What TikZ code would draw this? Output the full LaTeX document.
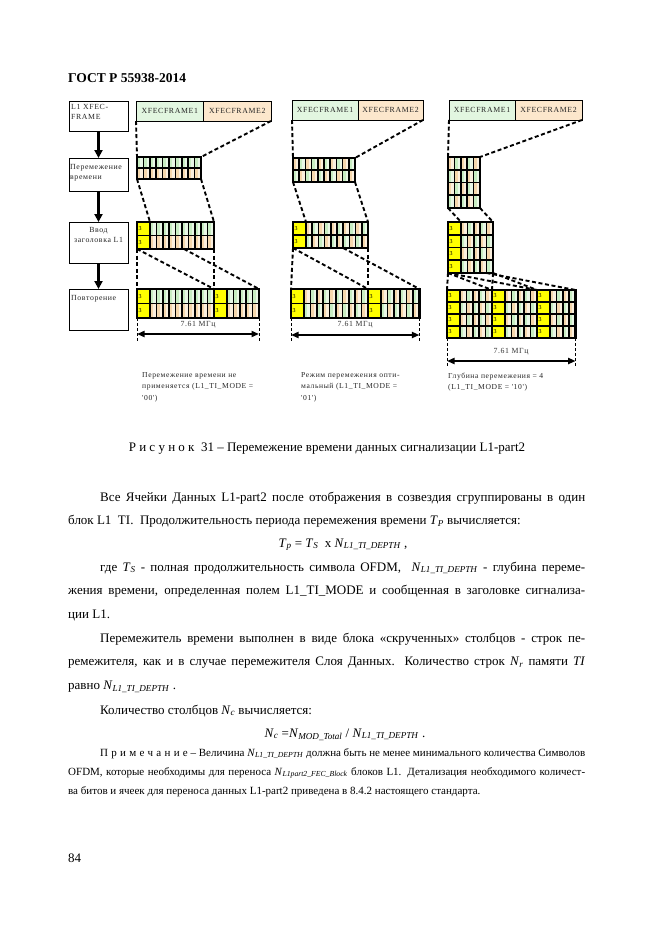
\documentclass[tikz,border=0pt]{standalone}
\usepackage{fontspec}
\setmainfont{Liberation Serif}
\newfontfamily\diagfont[LetterSpace=8]{Liberation Serif}
\newfontfamily\sparsefont[LetterSpace=30]{Liberation Serif}
\usetikzlibrary{arrows.meta}
\definecolor{framegreen}{HTML}{E2F6E0}
\definecolor{framepeach}{HTML}{FCE7CC}
\definecolor{cellgreen}{HTML}{C8EDC2}
\definecolor{cellpeach}{HTML}{F5D7AC}
\definecolor{hdryellow}{HTML}{FFFF00}
\newcommand{\bodyfont}{\fontsize{13}{23.7}\selectfont}
\newcommand{\notefont}{\fontsize{11}{19}\selectfont}
\newcommand{\Nt}[1]{\textit{N}\textsubscript{\textit{#1}}}
% data cells of a TI block: x, y, columns, rows, cell width, cell height, mode
\newcommand{\datacells}[7]{%
  \foreach \ci in {1,...,#3} {
    \foreach \ri in {1,...,#4} {
      \pgfmathsetmacro{\xa}{#1+(\ci-1)*#5}
      \pgfmathsetmacro{\ya}{#2+(\ri-1)*#6}
      \ifnum#7=0 \pgfmathtruncatemacro{\pick}{\ri-1}%
      \else\pgfmathtruncatemacro{\pick}{mod(\ci+\ri+#7,2)}\fi
      \ifnum\pick=0 \def\cellcol{cellgreen}\else\def\cellcol{cellpeach}\fi
      \fill[\cellcol] (\xa,\ya) rectangle ++(#5,#6);
      \fill[white, opacity=0.6] (\xa+0.5*#5,\ya) rectangle ++(0.5*#5,#6);
      \draw[cellline] (\xa,\ya) rectangle ++(#5,#6);
    }
  }
}
% header (yellow) column: x, y, rows, width, cell height, name
\newcommand{\hdrcells}[6]{%
  \foreach \ri in {1,...,#3} {
    \pgfmathsetmacro{\ya}{#2+(\ri-1)*#5}
    \fill[hdryellow] (#1,\ya) rectangle ++(#4,#5);
    \draw[cellline] (#1,\ya) rectangle ++(#4,#5);
    \node[hdrnum, anchor=west] (#6-\ri) at (#1+1.5,\ya+0.5*#5) {3};
  }
}
\begin{document}
\begin{tikzpicture}[x=1pt,y=-1pt,
    flowbox/.style={draw, line width=0.8pt, minimum width=59pt, inner sep=0pt,
      outer sep=0pt, anchor=north west},
    flowtext/.style={font=\diagfont\fontsize{7.8}{10}\selectfont, inner sep=0pt,
      text width=57pt, align=left, text=black!85},
    flowarrow/.style={line width=2.3pt, -{Triangle[length=8pt,width=8pt]}},
    framebar/.style={draw, line width=0.8pt, minimum width=67pt, minimum height=20pt,
      inner sep=0pt, outer sep=0pt, anchor=north west,
      font=\diagfont\fontsize{7.8}{9}\selectfont, text=black!85},
    blockframe/.style={draw, line width=2.4pt, inner sep=0pt, outer sep=0pt,
      anchor=north west},
    cellline/.style={line width=1.6pt},
    hdrnum/.style={font=\diagfont\fontsize{6}{6}\selectfont, inner sep=0pt},
    linkdash/.style={line width=1.9pt, dash pattern=on 4pt off 2.6pt},
    dimdash/.style={line width=0.9pt, dash pattern=on 3pt off 2pt},
    dimarrow/.style={line width=2pt,
      {Triangle[length=7.5pt,width=6pt]}-{Triangle[length=7.5pt,width=6pt]}},
    dimtext/.style={font=\diagfont\fontsize{7.8}{9}\selectfont, text=black!80},
    capnote/.style={font=\diagfont\fontsize{7.6}{11.5}\selectfont, text width=135pt,
      align=left, inner sep=0pt, anchor=base west, text=black!85},
    bodypar/.style={font=\bodyfont, text width=517pt, align=justify, inner sep=0pt,
      anchor=base west},
  ]
  \useasboundingbox (0,0) rectangle (661,935);
  \fill[white] (0,0) rectangle (661,935);

  \node[anchor=base west, inner sep=0pt, font=\bfseries\fontsize{13.5}{16}\selectfont]
    (gost) at (68,82) {ГОСТ Р 55938-2014};

  % Processing steps on the left.
  \node[flowbox, minimum height=30pt] (fxfec) at (69,101) {};
  \node[flowbox, minimum height=33pt] (fti) at (69,158) {};
  \node[flowbox, minimum height=41pt] (fhdr) at (69,222) {};
  \node[flowbox, minimum height=41pt] (frep) at (69,289) {};
  \node[flowtext, anchor=north west] (fxfect) at (71,104) {L1 XFEC-\\FRAME};
  \node[flowtext, anchor=north west] (ftit) at (70,164) {Перемежение\\времени};
  \node[flowtext, anchor=north, align=center] (fhdrt) at (98.5,227) {Ввод\\заголовка L1};
  \node[flowtext, anchor=north west] (frept) at (71,295) {Повторение};
  \draw[flowarrow] (fxfec) -- (fti);
  \draw[flowarrow] (fti) -- (fhdr);
  \draw[flowarrow] (fhdr) -- (frep);

  % Column 1: no time interleaving.
  \node[framebar, fill=framegreen, minimum width=67.5pt] (c1fa) at (136,101) {XFECFRAME1};
  \node[framebar, fill=framepeach, minimum width=67.5pt] (c1fb) at (c1fa.north east) {XFECFRAME2};
  \datacells{137}{157}{10}{2}{6.4}{11}{0}
  \node[blockframe, minimum width=64pt, minimum height=22pt] (c1s2) at (137,157) {};
  \hdrcells{137}{222}{2}{13}{13.5}{c1s3h}
  \datacells{150}{222}{10}{2}{6.4}{13.5}{0}
  \node[blockframe, minimum width=77pt, minimum height=27pt] (c1s3) at (137,222) {};
  \hdrcells{137}{289}{2}{13}{14.5}{c1s4ha}
  \datacells{150}{289}{10}{2}{6.4}{14.5}{0}
  \hdrcells{214}{289}{2}{13}{14.5}{c1s4hb}
  \datacells{227}{289}{5}{2}{6.4}{14.5}{0}
  \node[blockframe, minimum width=122pt, minimum height=29pt] (c1s4) at (137,289) {};
  \coordinate (c1s3d) at (150,222);
  \coordinate (c1s3p) at (184,249);
  \coordinate (c1s4y) at (214,289);
  \draw[linkdash] (c1fa.south west) -- (c1s2.north west);
  \draw[linkdash] (c1fb.south east) -- (c1s2.north east);
  \draw[linkdash] (c1s2.south west) -- (c1s3d);
  \draw[linkdash] (c1s2.south east) -- (c1s3.north east);
  \draw[linkdash] (c1s3.south west) -- (c1s4.north west);
  \draw[linkdash] (c1s3.south west) -- (c1s4y);
  \draw[linkdash] (c1s3.south east) -- (c1s4y);
  \draw[linkdash] (c1s3p) -- (c1s4.north east);
  \coordinate (c1dl) at (137,342);
  \coordinate (c1dr) at (259,342);
  \coordinate (c1al) at (137,334);
  \coordinate (c1ar) at (259,334);
  \draw[dimdash] (c1s4.south west) -- (c1dl);
  \draw[dimdash] (c1s4.south east) -- (c1dr);
  \draw[dimarrow] (c1al) -- (c1ar);
  \node[dimtext] (c1mhz) at (198,325) {7.61 МГц};
  \node[capnote] (c1cap) at (142,377) {Перемежение времени не\\применяется (L1\_TI\_MODE =\\'00')};

  % Column 2: optimal interleaving mode.
  \node[framebar, fill=framegreen, minimum width=66pt] (c2fa) at (292,100) {XFECFRAME1};
  \node[framebar, fill=framepeach, minimum width=65pt] (c2fb) at (c2fa.north east) {XFECFRAME2};
  \datacells{293}{158}{10}{2}{6.2}{12}{1}
  \node[blockframe, minimum width=62pt, minimum height=24pt] (c2s2) at (293,158) {};
  \hdrcells{293}{222}{2}{13}{13}{c2s3h}
  \datacells{306}{222}{10}{2}{6.2}{13}{1}
  \node[blockframe, minimum width=75pt, minimum height=26pt] (c2s3) at (293,222) {};
  \hdrcells{291}{289}{2}{13}{14.5}{c2s4ha}
  \datacells{304}{289}{10}{2}{6.4}{14.5}{1}
  \hdrcells{368}{289}{2}{13}{14.5}{c2s4hb}
  \datacells{381}{289}{6}{2}{6.4}{14.5}{1}
  \node[blockframe, minimum width=128.4pt, minimum height=29pt] (c2s4) at (291,289) {};
  \coordinate (c2s3d) at (306,222);
  \coordinate (c2s3p) at (343.2,248);
  \coordinate (c2s4y) at (368,289);
  \draw[linkdash] (c2fa.south west) -- (c2s2.north west);
  \draw[linkdash] (c2fb.south east) -- (c2s2.north east);
  \draw[linkdash] (c2s2.south west) -- (c2s3d);
  \draw[linkdash] (c2s2.south east) -- (c2s3.north east);
  \draw[linkdash] (c2s3.south west) -- (c2s4.north west);
  \draw[linkdash] (c2s3.south west) -- (c2s4y);
  \draw[linkdash] (c2s3.south east) -- (c2s4y);
  \draw[linkdash] (c2s3p) -- (c2s4.north east);
  \coordinate (c2dl) at (291,342);
  \coordinate (c2dr) at (419.4,342);
  \coordinate (c2al) at (291,335);
  \coordinate (c2ar) at (419.4,335);
  \draw[dimdash] (c2s4.south west) -- (c2dl);
  \draw[dimdash] (c2s4.south east) -- (c2dr);
  \draw[dimarrow] (c2al) -- (c2ar);
  \node[dimtext] (c2mhz) at (355,325) {7.61 МГц};
  \node[capnote] (c2cap) at (301,377) {Режим перемежения опти-\\мальный (L1\_TI\_MODE =\\'01')};

  % Column 3: interleaving depth 4.
  \node[framebar, fill=framegreen, minimum width=66pt] (c3fa) at (449,100) {XFECFRAME1};
  \node[framebar, fill=framepeach, minimum width=67pt] (c3fb) at (c3fa.north east) {XFECFRAME2};
  \datacells{448}{157}{5}{4}{6.4}{12.75}{1}
  \node[blockframe, minimum width=32pt, minimum height=51pt] (c3s2) at (448,157) {};
  \hdrcells{448}{222}{4}{13}{12.75}{c3s3h}
  \datacells{461}{222}{5}{4}{6.4}{12.75}{1}
  \node[blockframe, minimum width=45pt, minimum height=51pt] (c3s3) at (448,222) {};
  \hdrcells{447}{290}{4}{13}{12}{c3s4ha}
  \datacells{460}{290}{5}{4}{6.4}{12}{1}
  \hdrcells{492}{290}{4}{13}{12}{c3s4hb}
  \datacells{505}{290}{5}{4}{6.4}{12}{1}
  \hdrcells{537}{290}{4}{13}{12}{c3s4hc}
  \datacells{550}{290}{4}{4}{6.4}{12}{1}
  \node[blockframe, minimum width=128.6pt, minimum height=48pt] (c3s4) at (447,290) {};
  \coordinate (c3s3d) at (461,222);
  \coordinate (c3s3p) at (486.6,273);
  \coordinate (c3s4ya) at (492,290);
  \coordinate (c3s4yb) at (537,290);
  \draw[linkdash] (c3fa.south west) -- (c3s2.north west);
  \draw[linkdash] (c3fb.south east) -- (c3s2.north east);
  \draw[linkdash] (c3s2.south west) -- (c3s3d);
  \draw[linkdash] (c3s2.south east) -- (c3s3.north east);
  \draw[linkdash] (c3s3.south west) -- (c3s4.north west);
  \draw[linkdash] (c3s3.south west) -- (c3s4ya);
  \draw[linkdash] (c3s3.south east) -- (c3s4ya);
  \draw[linkdash] (c3s3.south west) -- (c3s4yb);
  \draw[linkdash] (c3s3.south east) -- (c3s4yb);
  \draw[linkdash] (c3s3p) -- (c3s4.north east);
  \coordinate (c3dl) at (447,367);
  \coordinate (c3dr) at (575.6,367);
  \coordinate (c3al) at (447,361);
  \coordinate (c3ar) at (575.6,361);
  \draw[dimdash] (c3s4.south west) -- (c3dl);
  \draw[dimdash] (c3s4.south east) -- (c3dr);
  \draw[dimarrow] (c3al) -- (c3ar);
  \node[dimtext] (c3mhz) at (511,352) {7.61 МГц};
  \node[capnote] (c3cap) at (448,378) {Глубина перемежения = 4\\(L1\_TI\_MODE = '10')};

  % Figure caption and running text.
  \node[anchor=base, inner sep=0pt, font=\bodyfont] (figcap) at (327,451)
    {Р и с у н о к~~31 – Перемежение времени данных сигнализации L1-part2};
  \node[bodypar] (para1) at (68,501) {\hspace*{32pt}Все Ячейки Данных L1-part2 после
    отображения в созвездия сгруппированы в один\linebreak блок L1\ \ TI.\ \ Продолжительность
    периода перемежения времени \textit{T}\textsubscript{\textit{P}} вычисляется:};
  \node[anchor=base, inner sep=0pt, font=\bodyfont] (tpform) at (343,547)
    {\textit{T}\textsubscript{\textit{p}} = \textit{T}\textsubscript{\textit{S}}~~x \Nt{L1\_TI\_DEPTH} ,};
  \node[bodypar] (para2) at (68,571) {\hspace*{32pt}где \textit{T}\textsubscript{\textit{S}} -
    полная продолжительность символа OFDM,\ \ \Nt{L1\_TI\_DEPTH} - глубина переме-\linebreak
    жения времени, определенная полем L1\_TI\_MODE и сообщенная в заголовке
    сигнализа-\linebreak ции L1.};
  \node[bodypar] (para3) at (68,642) {\hspace*{32pt}Перемежитель времени выполнен в виде
    блока «скрученных» столбцов - строк пе-\linebreak ремежителя, как и в случае
    перемежителя Слоя Данных. Количество строк \textit{N}\textsubscript{\textit{r}} памяти
    \textit{TI}\linebreak равно \Nt{L1\_TI\_DEPTH} .};
  \node[bodypar] (para4) at (68,714) {\hspace*{32pt}Количество столбцов
    \textit{N}\textsubscript{\textit{c}} вычисляется:};
  \node[anchor=base, inner sep=0pt, font=\bodyfont] (ncform) at (345,737)
    {\textit{N}\textsubscript{\textit{c}} =\Nt{MOD\_Total} / \Nt{L1\_TI\_DEPTH} .};
  \node[bodypar, font=\notefont] (note) at (68,756) {\hspace*{32pt}{\sparsefont Примечание}
    – Величина \Nt{L1\_TI\_DEPTH} должна быть не менее минимального количества
    Символов\linebreak OFDM, которые необходимы для переноса \Nt{L1part2\_FEC\_Block}
    блоков L1. Детализация необходимого количест-\linebreak ва битов и ячеек для переноса
    данных L1-part2 приведена в 8.4.2 настоящего стандарта.};
  \node[anchor=base west, inner sep=0pt, font=\bodyfont] (pagenum) at (68,862) {84};
\end{tikzpicture}
\end{document}
